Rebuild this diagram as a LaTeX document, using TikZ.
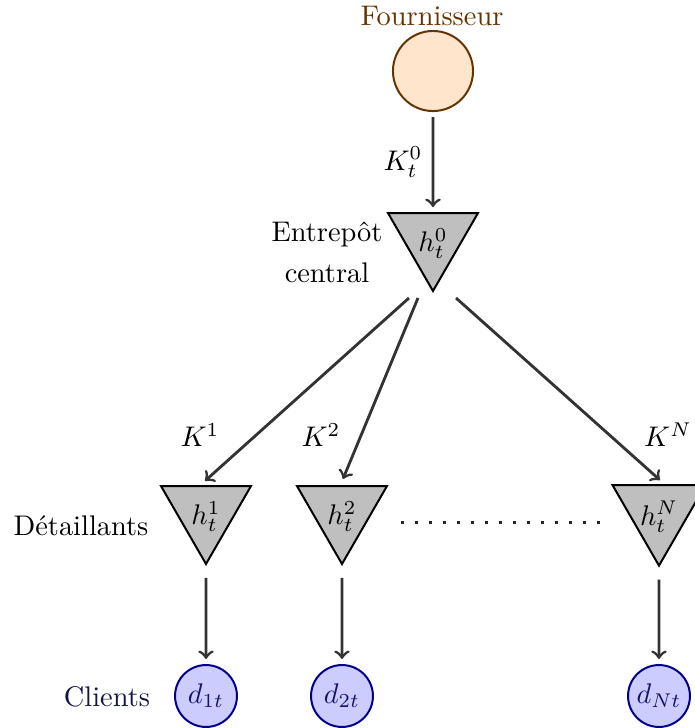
\documentclass[tikz,border=0pt]{standalone}
\usetikzlibrary{shapes.geometric,calc}
\definecolor{supbrown}{RGB}{102,51,0}
\definecolor{supfill}{RGB}{255,229,204}
\definecolor{cliline}{RGB}{0,0,140}
\definecolor{clifill}{RGB}{204,204,255}
\definecolor{clitext}{RGB}{20,20,110}
\definecolor{clilab}{RGB}{20,20,70}
\definecolor{arrgray}{RGB}{51,51,51}
\newcommand{\lowertxt}[1]{\raisebox{-1.7pt}[\height][\depth]{#1}}
\tikzset{
  stock/.style={regular polygon, regular polygon sides=3, shape border rotate=180,
    draw=black, line width=0.7pt, fill=black!25, minimum size=36.6pt, inner sep=0pt, outer sep=0pt},
  supnode/.style={circle, draw=supbrown, line width=0.7pt, fill=supfill, minimum size=28.2pt, inner sep=0pt},
  clinode/.style={circle, draw=cliline, line width=0.7pt, fill=clifill, minimum size=21.8pt, inner sep=0pt, text=clitext},
  arr/.style={->, draw=arrgray, line width=1pt},
  lab/.style={inner sep=0pt}
}
\begin{document}
\begin{tikzpicture}[x=0.3522pt,y=-0.3522pt]
\useasboundingbox (0,0) rectangle (694,728);
% supplier
\node[supnode] (sup) at (433,71) {};
\node[lab, text=supbrown, anchor=base] (suplab) at (432,25) {Fournisseur};
% central warehouse
\node[stock] (h0) at (433,239) {\lowertxt{$h_t^0$}};
\node[lab, align=center] (cw) at (327,252) {Entrep\^ot\\[2.4pt]central};
% retailers
\node[stock] (h1) at (206,512) {\lowertxt{$h_t^1$}};
\node[stock] (h2) at (342,512) {\lowertxt{$h_t^2$}};
\node[stock] (hN) at (659,512) {\lowertxt{$h_t^N$}};
\node[lab] (ret) at (81,526) {D\'etaillants};
% clients
\node[clinode] (d1) at (206,696) {$d_{1t}$};
\node[clinode] (d2) at (342,696) {$d_{2t}$};
\node[clinode] (dN) at (659,696) {$d_{Nt}$};
\node[lab, text=clilab] (cl) at (107,697) {Clients};
% dots
\coordinate (dotA) at (401,522);
\coordinate (dotB) at (600,522);
\draw[line width=1.05pt, draw=black!85, dash pattern=on 1.05pt off 3.88pt] (dotA) -- (dotB);
% arrows
\draw[arr, shorten <=1.8pt, shorten >=2.1pt] (sup) -- (h0.north);
\node[lab] (k0) at (403,162) {$K_t^0$};
\coordinate (s1) at ($(h0.south)+(-24,7)$);
\coordinate (s2) at ($(h0.south)+(-15,7)$);
\coordinate (s3) at ($(h0.south)+(23,7)$);
\draw[arr] (s1) -- ([xshift=-0.35pt,yshift=1.8pt]h1.north);
\draw[arr] (s2) -- ([xshift=0.35pt,yshift=2.5pt]h2.north);
\draw[arr] (s3) -- ([xshift=0.35pt,yshift=1.8pt]hN.north);
\node[lab] (k1) at (200,435) {$K^1$};
\node[lab] (k2) at (321,435) {$K^2$};
\node[lab] (kN) at (668,435) {$K^N$};
\coordinate (b1) at ($(h1.south)+(0,14)$);
\coordinate (b2) at ($(h2.south)+(0,14)$);
\coordinate (bN) at ($(hN.south)+(0,14)$);
\draw[arr, shorten >=1.8pt] (b1) -- (d1);
\draw[arr, shorten >=1.8pt] (b2) -- (d2);
\draw[arr, shorten >=1.8pt] (bN) -- (dN);
\end{tikzpicture}
\end{document}
